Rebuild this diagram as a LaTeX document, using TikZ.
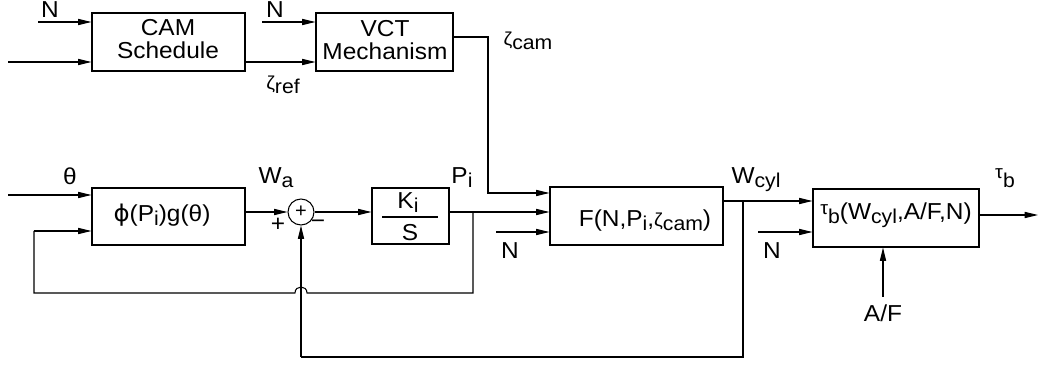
\documentclass[tikz,border=0pt]{standalone}
\usepackage{fontspec}
\usepackage{graphicx}
\setmainfont{Liberation Sans}
\newfontfamily\dvs{DejaVu Sans}
\usetikzlibrary{arrows.meta,fit}
\newcommand\sbs[1]{\raisebox{-3pt}{\fontsize{15}{15}\selectfont #1}}
\newcommand\gk[1]{{\fontsize{14}{14}\selectfont #1}}
\newcommand\T[1]{\scalebox{1.06}[1]{#1}}
\begin{document}
\begin{tikzpicture}[x=0.75pt,y=-0.75pt,
  font=\fontsize{17.3}{17.3}\selectfont,
  line width=0.8pt,
  box/.style={draw,inner sep=0pt},
  arr/.style={-{Triangle[length=10pt,width=4.6pt]}},
  lbl/.style={inner sep=0pt},
  bl/.style={inner sep=0pt,anchor=base}]
\useasboundingbox (0,0) rectangle (1047,367);
% blocks
\node[box,fit={(92,13) (245,71)}] (cam) {};
\node[bl] (camt) at (168,36) {\T{CAM}};
\node[bl] (camu) at (168,59) {\T{Schedule}};
\node[box,fit={(316,13) (453,71)}] (vct) {};
\node[bl] (vctt) at (385,37) {\T{VCT}};
\node[bl] (vctu) at (385,60) {\T{Mechanism}};
\node[box,fit={(92,188) (245,245)}] (phi) {};
\node[bl] (phit) at (162,222) {\T{{\dvs ϕ}(P\sbs{i})g(θ)}};
\node[draw,circle,minimum size=26*0.75pt,inner sep=0pt] (sum) at (301,212) {};
\node[lbl,font=\fontsize{15}{15}\selectfont] (sumt) at (sum.center) {+};
\node[box,fit={(372,188) (449,244)}] (ki) {};
\node[bl] (kit) at (408,209) {\T{K\sbs{i}}};
\node[bl] (kis) at (410,241) {\T{S}};
\coordinate (fl1) at (382,217);
\coordinate (fl2) at (438,217);
\draw (fl1) -- (fl2);
\node[box,fit={(550,187) (723,245)}] (F) {};
\node[bl] (Ft) at (645,227) {\T{F(N,P\sbs{i},\gk{ζ}\sbs{cam})}};
\node[box,fit={(813,189) (979,247)}] (tau) {};
\node[bl] (taut) at (896,220) {\T{\raisebox{4pt}{\gk{τ}}\sbs{b}(W\sbs{cyl},A/F,N)}};
% labels
\node[bl] (lN1) at (50,18) {\T{N}};
\node[bl] (lN2) at (275,18) {\T{N}};
\node[bl] (lzref) at (283,90) {\T{\gk{ζ}\sbs{ref}}};
\node[bl] (lzcam) at (528,46) {\T{\gk{ζ}\sbs{cam}}};
\node[bl] (lth) at (70,185) {\T{θ}};
\node[bl] (lwa) at (276,184) {\T{W\sbs{a}}};
\node[lbl] (lplus) at (278,225) {\T{+}};
\node[lbl] (lminus) at (318,224) {\T{−}};
\node[bl] (lpi) at (462,184) {\T{P\sbs{i}}};
\node[bl] (lN3) at (510,258) {\T{N}};
\node[bl] (lwc) at (756,184) {\T{W\sbs{cyl}}};
\node[bl] (lN4) at (772,259) {\T{N}};
\node[bl] (ltb) at (1005,184) {\T{\raisebox{4pt}{\gk{τ}}\sbs{b}}};
\node[bl] (laf) at (883,321) {\T{A/F}};
% coordinates
\coordinate (iN1) at (38,22);
\coordinate (iL) at (8,62);
\coordinate (iN2) at (262,22);
\coordinate (zr) at (245,62);
\coordinate (vo) at (453,37);
\coordinate (vc1) at (488,37);
\coordinate (vc2) at (488,193);
\coordinate (ith) at (8,195);
\coordinate (po) at (245,212);
\coordinate (ko) at (449,212);
\coordinate (jp) at (473,212);
\coordinate (jp2) at (473,293);
\coordinate (h1) at (307,293);
\coordinate (h2) at (295,293);
\coordinate (fb1) at (34,293);
\coordinate (fb2) at (34,231);
\coordinate (iN3) at (496,232);
\coordinate (fo) at (723,201);
\coordinate (jw) at (743,201);
\coordinate (jw2) at (743,357);
\coordinate (jw3) at (301,357);
\coordinate (iN4) at (758,232);
\coordinate (iaf) at (883,297);
\coordinate (tout) at (1038,215);
% connectors
\draw[arr] (iN1) -- (iN1 -| cam.west);
\draw[arr] (iL) -- (iL -| cam.west);
\draw[arr] (iN2) -- (iN2 -| vct.west);
\draw[arr] (zr) -- (zr -| vct.west);
\draw[arr] (vo) -- (vc1) -- (vc2) -- (vc2 -| F.west);
\draw[arr] (ith) -- (ith -| phi.west);
\draw[arr] (po) -- (sum.west);
\draw[arr] (sum.east) -- (sum.east -| ki.west);
\draw[arr] (ko) -- (ko -| F.west);
\draw (jp) -- (jp2) -- (h1) .. controls (307,285) and (295,285) .. (h2) -- (fb1) -- (fb2);
\draw[arr] (fb2) -- (fb2 -| phi.west);
\draw[arr] (iN3) -- (iN3 -| F.west);
\draw[arr] (fo) -- (fo -| tau.west);
\draw (jw) -- (jw2) -- (jw3);
\draw[arr] (jw3) -- (sum.south);
\draw[arr] (iN4) -- (iN4 -| tau.west);
\draw[arr] (iaf) -- (iaf |- tau.south);
\draw[arr] (tout -| tau.east) -- (tout);
\end{tikzpicture}
\end{document}
